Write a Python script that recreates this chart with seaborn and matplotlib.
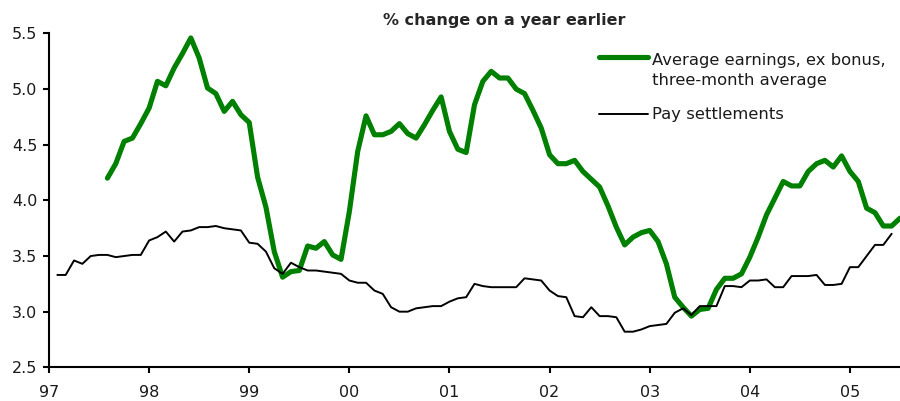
import numpy as np
import pandas as pd
import matplotlib
matplotlib.use("Agg")
import matplotlib.pyplot as plt
import seaborn as sns

# Monthly series, % change on a year earlier
earnings_start = (1997, 7)   # first month of the earnings series
settlements_start = (1997, 1)

earnings = [
    4.20, 4.33, 4.53, 4.56, 4.69, 4.83,
    5.07, 5.03, 5.19, 5.32, 5.46, 5.28, 5.01, 4.96, 4.80, 4.89, 4.77, 4.70,
    4.21, 3.94, 3.54, 3.31, 3.36, 3.37, 3.59, 3.57, 3.63, 3.51, 3.47, 3.90,
    4.44, 4.76, 4.59, 4.59, 4.62, 4.69, 4.60, 4.56, 4.68, 4.81, 4.93, 4.62,
    4.46, 4.43, 4.86, 5.07, 5.16, 5.10, 5.10, 5.00, 4.96, 4.81, 4.65, 4.41,
    4.33, 4.33, 4.36, 4.26, 4.19, 4.12, 3.95, 3.76, 3.60, 3.67, 3.71, 3.73,
    3.63, 3.43, 3.13, 3.04, 2.96, 3.02, 3.03, 3.20, 3.30, 3.30, 3.34, 3.49,
    3.67, 3.87, 4.02, 4.17, 4.13, 4.13, 4.26, 4.33, 4.36, 4.30, 4.40, 4.26,
    4.17, 3.93, 3.89, 3.77, 3.77, 3.84,
]

settlements = [
    3.33, 3.33, 3.46, 3.43, 3.50, 3.51, 3.51, 3.49, 3.50, 3.51, 3.51, 3.64,
    3.67, 3.72, 3.63, 3.72, 3.73, 3.76, 3.76, 3.77, 3.75, 3.74, 3.73, 3.62,
    3.61, 3.54, 3.39, 3.34, 3.44, 3.40, 3.37, 3.37, 3.36, 3.35, 3.34, 3.28,
    3.26, 3.26, 3.19, 3.16, 3.04, 3.00, 3.00, 3.03, 3.04, 3.05, 3.05, 3.09,
    3.12, 3.13, 3.25, 3.23, 3.22, 3.22, 3.22, 3.22, 3.30, 3.29, 3.28, 3.19,
    3.14, 3.13, 2.96, 2.95, 3.04, 2.96, 2.96, 2.95, 2.82, 2.82, 2.84, 2.87,
    2.88, 2.89, 2.99, 3.03, 2.97, 3.05, 3.05, 3.05, 3.23, 3.23, 3.22, 3.28,
    3.28, 3.29, 3.22, 3.22, 3.32, 3.32, 3.32, 3.33, 3.24, 3.24, 3.25, 3.40,
    3.40, 3.50, 3.60, 3.60, 3.70,
]

year_ticks = [1997, 1998, 1999, 2000, 2001, 2002, 2003, 2004, 2005]
year_labels = ["97", "98", "99", "00", "01", "02", "03", "04", "05"]
y_ticks = [2.5, 3.0, 3.5, 4.0, 4.5, 5.0, 5.5]

label_earn = "Average earnings, ex bonus,\nthree-month average"
label_pay = "Pay settlements"


def month_axis(start, n):
    y, m = start
    return [y + (m + i) / 12.0 for i in range(n)]


df = pd.concat([
    pd.DataFrame({"t": month_axis(earnings_start, len(earnings)),
                  "value": earnings, "series": label_earn}),
    pd.DataFrame({"t": month_axis(settlements_start, len(settlements)),
                  "value": settlements, "series": label_pay}),
])

sns.set_style("ticks")
plt.rcParams["font.family"] = ["DejaVu Sans"]

fig = plt.figure(figsize=(9, 4.01), dpi=100)
ax = fig.add_axes([49 / 900, 1 - 367.3 / 401, 851 / 900, (367.3 - 33.5) / 401])

sns.lineplot(data=df, x="t", y="value", hue="series", size="series",
             palette={label_earn: "#008000", label_pay: "black"},
             sizes={label_earn: 3.7, label_pay: 1.4},
             ax=ax, legend=True)

ax.set_xlim(1997, 2005.5)
ax.set_ylim(2.5, 5.5)
ax.set_xticks(year_ticks)
ax.set_xticklabels(year_labels)
ax.set_yticks(y_ticks)
ax.set_yticklabels([f"{v:.1f}" for v in y_ticks])
ax.set_xlabel("")
ax.set_ylabel("")

for side in ("top", "right"):
    ax.spines[side].set_visible(False)
for side in ("left", "bottom"):
    ax.spines[side].set_linewidth(1.5)
    ax.spines[side].set_color("black")
ax.tick_params(axis="both", direction="out", length=4.5, width=1.5,
               color="black", labelsize=11.5, labelcolor="#1a1a1a")
ax.tick_params(axis="y", pad=4)
ax.tick_params(axis="x", pad=8)

leg = ax.legend(loc="upper left", bbox_to_anchor=(599 / 900, 1 - 53 / 401),
                bbox_transform=fig.transFigure, frameon=False, fontsize=11.8,
                handlelength=3.0, handletextpad=0.25, labelspacing=1.2,
                borderpad=0, borderaxespad=0)
for txt in leg.get_texts():
    txt.set_color("#1a1a1a")
    txt.set_linespacing(1.4)
# keep the thick key line level with the first line of its two-line label
green_key = leg.get_lines()[0]
green_key.set_ydata(np.asarray(green_key.get_ydata()) + 9.8)

fig.text(504 / 900, 1 - 20 / 401, "% change on a year earlier",
         ha="center", va="center", fontsize=11.5, fontweight="bold")

fig.savefig("out.png", dpi=100)
